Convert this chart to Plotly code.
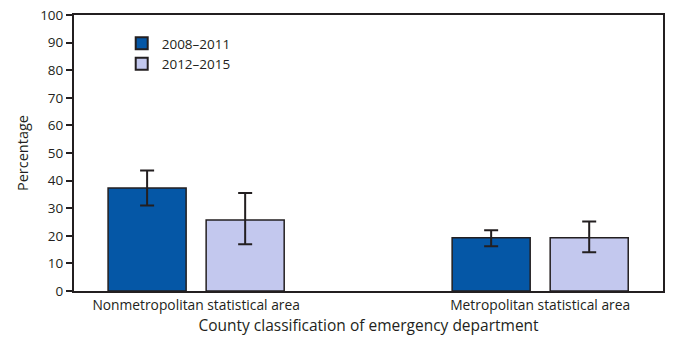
import plotly.graph_objects as go

categories = ["Nonmetropolitan statistical area", "Metropolitan statistical area"]
series_names = ["2008–2011", "2012–2015"]
values_2008_2011 = [37.3, 19.3]
ci_low_2008_2011 = [31.0, 16.2]
ci_high_2008_2011 = [43.7, 22.0]
values_2012_2015 = [25.7, 19.3]
ci_low_2012_2015 = [16.9, 14.0]
ci_high_2012_2015 = [35.5, 25.2]
y_ticks = list(range(0, 101, 10))

colors = ["#0557a6", "#c3c8ee"]

fig = go.Figure()
for name, vals, lo, hi, col in [
    (series_names[0], values_2008_2011, ci_low_2008_2011, ci_high_2008_2011, colors[0]),
    (series_names[1], values_2012_2015, ci_low_2012_2015, ci_high_2012_2015, colors[1]),
]:
    fig.add_trace(go.Bar(
        x=categories, y=vals, name=name,
        marker=dict(color=col, line=dict(color="#231f20", width=1.5)),
        error_y=dict(type="data", symmetric=False,
                     array=[h - v for h, v in zip(hi, vals)],
                     arrayminus=[v - l for l, v in zip(lo, vals)],
                     color="#231f20", thickness=2, width=7),
    ))

fig.update_layout(
    width=681, height=355,
    margin=dict(l=74, r=18, t=15, b=64),
    plot_bgcolor="white", paper_bgcolor="white",
    barmode="group", bargap=0.43, bargroupgap=0.204,
    font=dict(family="Open Sans", color="#231f20", size=12),
    showlegend=True,
    legend=dict(x=0.081, y=0.953, xanchor="left", yanchor="top",
                bgcolor="rgba(0,0,0,0)", font=dict(size=13.5),
                itemsizing="constant", tracegroupgap=4, itemwidth=30),
    xaxis=dict(range=[-0.355, 1.357], showline=True, linecolor="#231f20", linewidth=2,
               mirror=True, ticks="", tickfont=dict(size=13.8), automargin=False,
               title=dict(text="County classification of emergency department",
                          font=dict(size=15.5), standoff=7)),
    yaxis=dict(range=[0, 100], tickvals=y_ticks, showline=True, linecolor="#231f20",
               linewidth=2, mirror=True, ticks="outside", ticklen=6, tickwidth=2,
               tickcolor="#231f20", showgrid=False, zeroline=False,
               tickfont=dict(size=13.5), automargin=False,
               title=dict(text="Percentage", font=dict(size=14.5), standoff=8)),
)

fig.write_html("out.html", config={"displayModeBar": False},
               post_script="document.body.style.margin='0';")
